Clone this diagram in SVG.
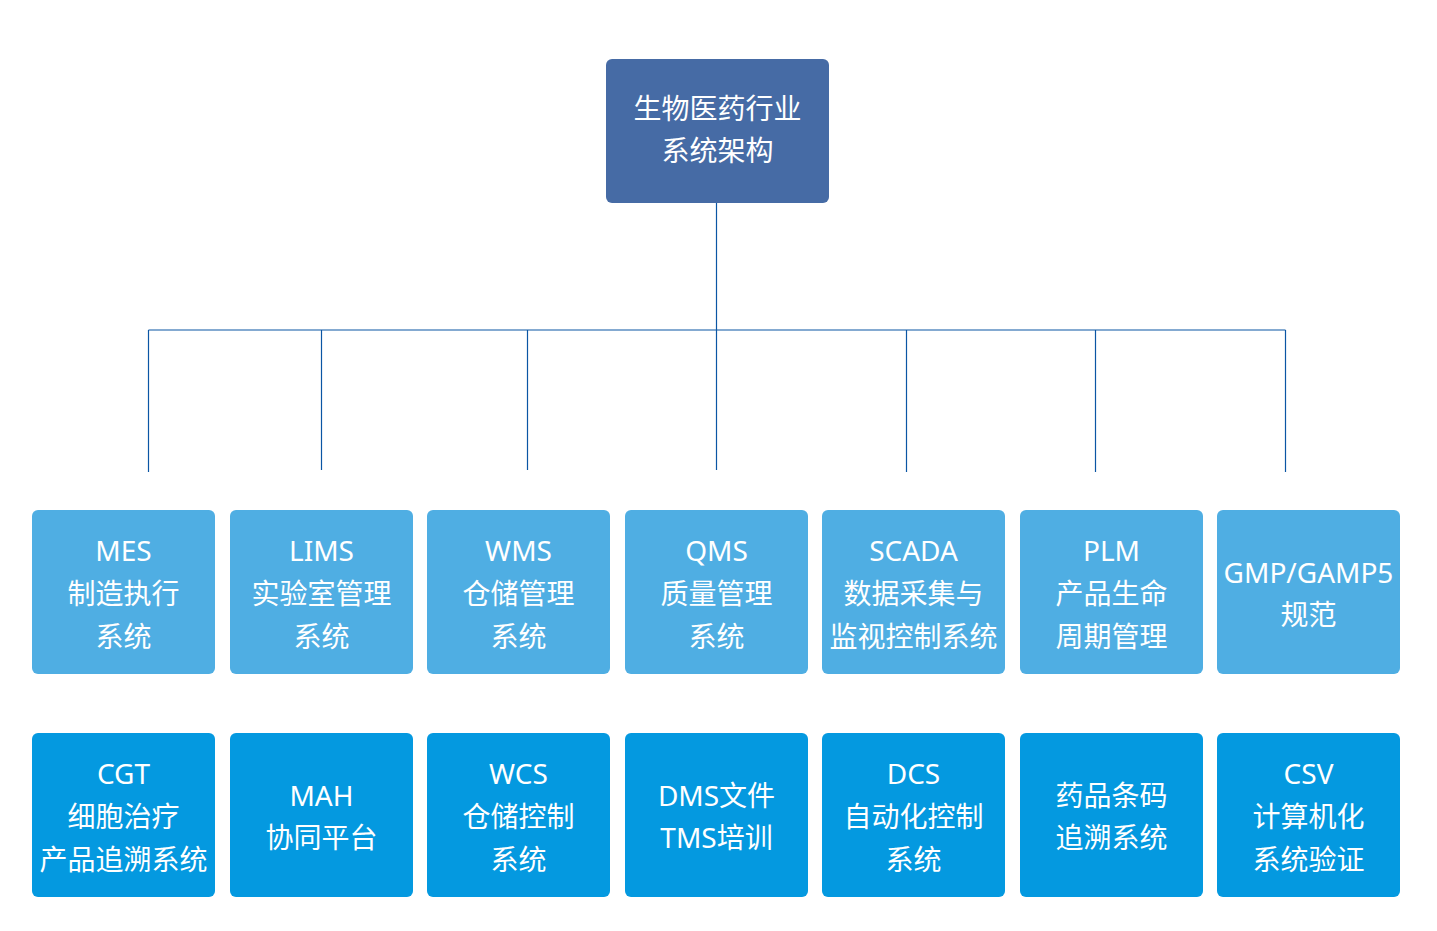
<svg xmlns="http://www.w3.org/2000/svg" width="1437" height="931" viewBox="0 0 1437 931">
<style>
.t{font-family:"Noto Sans","Noto Sans CJK SC",sans-serif;font-size:28px;fill:#ffffff;text-anchor:middle;dominant-baseline:central}
.top{fill:#466BA5}
.r1{fill:#4FAEE3}
.r2{fill:#0499E0}
.c{stroke:#0B56A4;stroke-width:1.2;fill:none}
</style>
<rect width="1437" height="931" fill="#ffffff"/>
<g id="connectors">
<path class="c" d="M716.5 203V470M148.5 330H1285.5M148.5 330V472M321.5 330V470M527.5 330V470M906.5 330V472M1095.5 330V472M1285.5 330V472"/>
</g>
<g id="root"><rect class="top" x="606" y="59" width="223" height="144" rx="6"/><text class="t" x="717.5" y="108">生物医药行业</text><text class="t" x="717.5" y="150">系统架构</text></g>
<g id="mes"><rect class="r1" x="32" y="510" width="183" height="164" rx="6"/><text class="t" x="123.5" y="550">MES</text><text class="t" x="123.5" y="593">制造执行</text><text class="t" x="123.5" y="636">系统</text></g>
<g id="lims"><rect class="r1" x="230" y="510" width="183" height="164" rx="6"/><text class="t" x="321.5" y="550">LIMS</text><text class="t" x="321.5" y="593">实验室管理</text><text class="t" x="321.5" y="636">系统</text></g>
<g id="wms"><rect class="r1" x="427" y="510" width="183" height="164" rx="6"/><text class="t" x="518.5" y="550">WMS</text><text class="t" x="518.5" y="593">仓储管理</text><text class="t" x="518.5" y="636">系统</text></g>
<g id="qms"><rect class="r1" x="625" y="510" width="183" height="164" rx="6"/><text class="t" x="716.5" y="550">QMS</text><text class="t" x="716.5" y="593">质量管理</text><text class="t" x="716.5" y="636">系统</text></g>
<g id="scada"><rect class="r1" x="822" y="510" width="183" height="164" rx="6"/><text class="t" x="913.5" y="550">SCADA</text><text class="t" x="913.5" y="593">数据采集与</text><text class="t" x="913.5" y="636">监视控制系统</text></g>
<g id="plm"><rect class="r1" x="1020" y="510" width="183" height="164" rx="6"/><text class="t" x="1111.5" y="550">PLM</text><text class="t" x="1111.5" y="593">产品生命</text><text class="t" x="1111.5" y="636">周期管理</text></g>
<g id="gmp"><rect class="r1" x="1217" y="510" width="183" height="164" rx="6"/><text class="t" x="1308.5" y="572">GMP/GAMP5</text><text class="t" x="1308.5" y="614">规范</text></g>
<g id="cgt"><rect class="r2" x="32" y="733" width="183" height="164" rx="6"/><text class="t" x="123.5" y="773">CGT</text><text class="t" x="123.5" y="816">细胞治疗</text><text class="t" x="123.5" y="859">产品追溯系统</text></g>
<g id="mah"><rect class="r2" x="230" y="733" width="183" height="164" rx="6"/><text class="t" x="321.5" y="795">MAH</text><text class="t" x="321.5" y="837">协同平台</text></g>
<g id="wcs"><rect class="r2" x="427" y="733" width="183" height="164" rx="6"/><text class="t" x="518.5" y="773">WCS</text><text class="t" x="518.5" y="816">仓储控制</text><text class="t" x="518.5" y="859">系统</text></g>
<g id="dms"><rect class="r2" x="625" y="733" width="183" height="164" rx="6"/><text class="t" x="716.5" y="795">DMS文件</text><text class="t" x="716.5" y="837">TMS培训</text></g>
<g id="dcs"><rect class="r2" x="822" y="733" width="183" height="164" rx="6"/><text class="t" x="913.5" y="773">DCS</text><text class="t" x="913.5" y="816">自动化控制</text><text class="t" x="913.5" y="859">系统</text></g>
<g id="barcode"><rect class="r2" x="1020" y="733" width="183" height="164" rx="6"/><text class="t" x="1111.5" y="795">药品条码</text><text class="t" x="1111.5" y="837">追溯系统</text></g>
<g id="csv"><rect class="r2" x="1217" y="733" width="183" height="164" rx="6"/><text class="t" x="1308.5" y="773">CSV</text><text class="t" x="1308.5" y="816">计算机化</text><text class="t" x="1308.5" y="859">系统验证</text></g>
</svg>
